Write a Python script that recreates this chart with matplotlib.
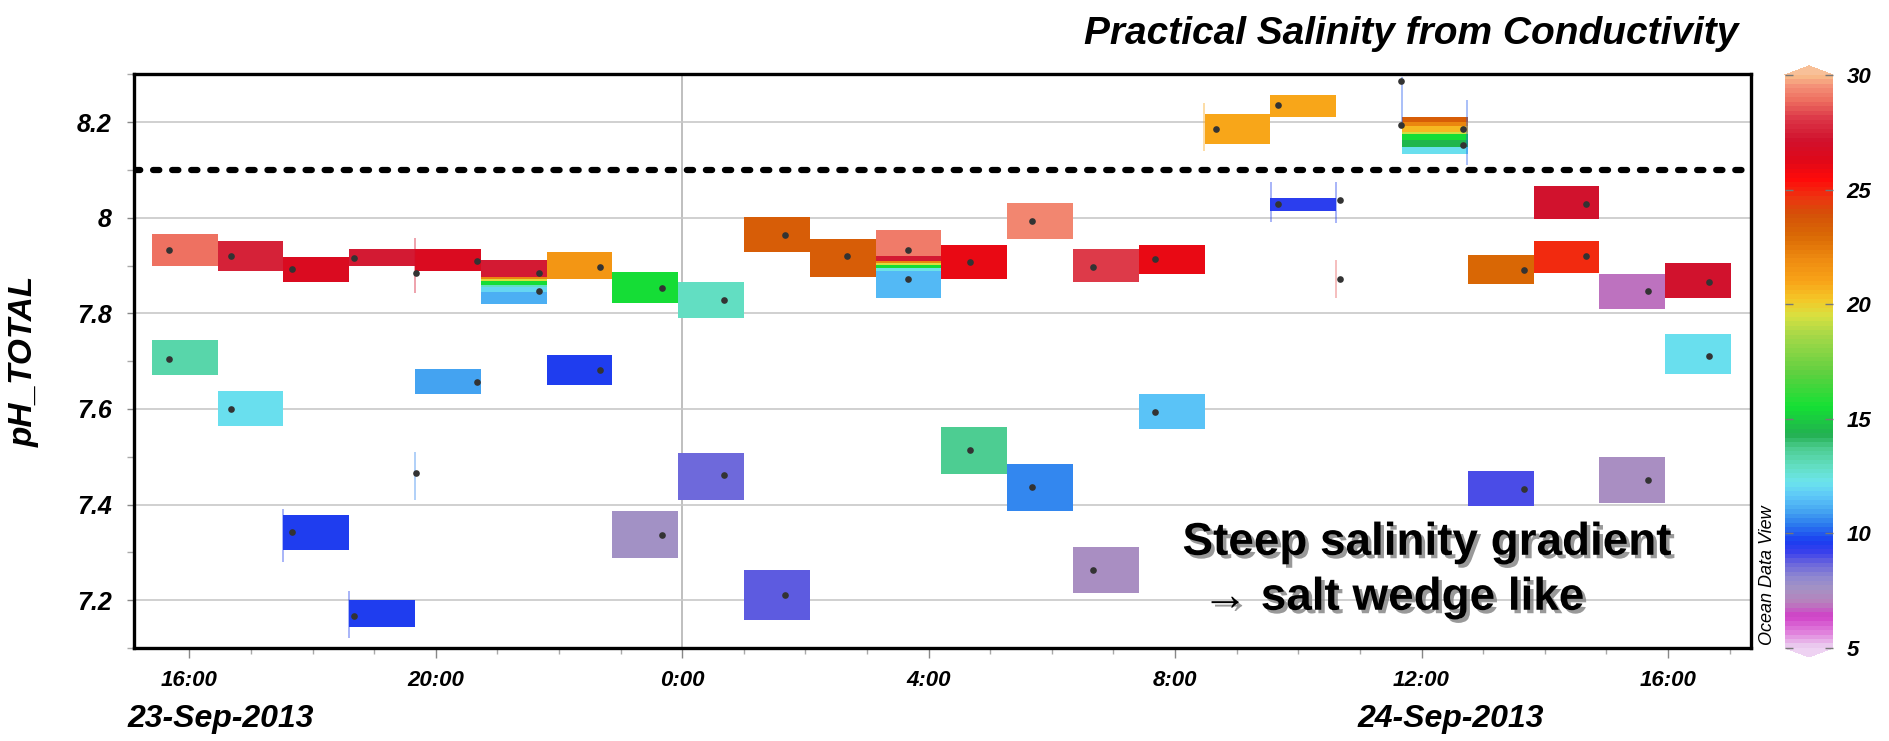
"""
pH_TOTAL time series, 23-24 Sep 2013
Gridded cells coloured by practical salinity (from conductivity),
hourly samples drawn as dots on top.
"""

import matplotlib
matplotlib.use("Agg")
import matplotlib.pyplot as plt
import matplotlib.patheffects as pe
from matplotlib.colors import LinearSegmentedColormap, Normalize
from matplotlib.cm import ScalarMappable
from matplotlib.ticker import MultipleLocator, FuncFormatter

plt.rcParams['font.family'] = ['Liberation Sans', 'DejaVu Sans']
plt.rcParams['font.weight'] = 'bold'
plt.rcParams['font.style'] = 'italic'

# ==================== Data ====================
# time axis: hours since 23-Sep-2013 00:00

GRID_T0 = 15.39   # left edge of the first grid column (h)
GRID_DT = 1.068   # grid column width (h)

# gridded cells: grid column, pH bottom, pH top, salinity
cell_col = [0, 0, 1, 1, 2, 2, 3, 3, 4, 4,
            5, 5, 5, 5, 5, 5, 5,
            6, 6, 7, 7, 8, 8, 9, 9, 10,
            11, 11, 11, 11, 11, 11, 11,
            12, 12, 13, 13, 14, 14, 15, 15, 16, 17, 17,
            19, 19, 19, 19, 19, 19, 19,
            20, 20, 21, 21, 22, 22, 23, 23]
cell_lo = [7.900, 7.671, 7.888, 7.565, 7.866, 7.306, 7.900, 7.143, 7.889, 7.632,
           7.877, 7.872, 7.867, 7.859, 7.855, 7.845, 7.820,
           7.871, 7.650, 7.821, 7.289, 7.791, 7.410, 7.928, 7.159, 7.877,
           7.919, 7.909, 7.905, 7.902, 7.895, 7.888, 7.833,
           7.871, 7.464, 7.956, 7.386, 7.866, 7.215, 7.882, 7.558, 8.154, 8.210, 8.014,
           8.201, 8.192, 8.180, 8.175, 8.163, 8.149, 8.133,
           7.861, 7.396, 7.997, 7.884, 7.809, 7.403, 7.833, 7.673]
cell_hi = [7.967, 7.744, 7.951, 7.638, 7.917, 7.379, 7.934, 7.200, 7.934, 7.683,
           7.912, 7.877, 7.872, 7.867, 7.859, 7.855, 7.845,
           7.928, 7.713, 7.887, 7.386, 7.865, 7.508, 8.002, 7.264, 7.955,
           7.974, 7.919, 7.909, 7.905, 7.902, 7.895, 7.888,
           7.944, 7.563, 8.031, 7.485, 7.934, 7.312, 7.944, 7.631, 8.217, 8.256, 8.042,
           8.210, 8.201, 8.192, 8.180, 8.175, 8.163, 8.149,
           7.922, 7.471, 8.066, 7.952, 7.882, 7.500, 7.905, 7.756]
cell_sal = [29.0, 13.3, 27.6, 12.2, 26.5, 9.6, 27.3, 9.6, 26.6, 11.0,
            27.4, 22.0, 19.5, 15.5, 13.0, 12.0, 11.2,
            21.6, 9.6, 15.5, 7.7, 12.9, 8.6, 23.5, 8.8, 23.5,
            29.2, 27.4, 22.0, 19.5, 15.5, 12.3, 11.4,
            25.9, 13.6, 29.3, 10.6, 28.2, 7.5, 25.9, 11.6, 21.0, 20.9, 9.4,
            23.5, 22.0, 20.5, 19.3, 15.5, 14.5, 12.2,
            23.0, 9.1, 27.2, 24.8, 6.95, 7.4, 27.2, 12.2]

# zero-width cells at column edges (thin streaks)
sliver_t = [17.52, 18.59, 19.66, 19.66, 32.47, 33.55, 34.61, 34.61, 35.68, 36.74]
sliver_lo = [7.28, 7.12, 7.843, 7.41, 8.14, 7.992, 7.99, 7.832, 8.19, 8.11]
sliver_hi = [7.39, 7.22, 7.958, 7.51, 8.24, 8.075, 8.075, 7.912, 8.295, 8.246]
sliver_sal = [9.6, 9.6, 27.0, 10.5, 21.0, 9.6, 9.6, 28.5, 10.0, 10.0]

# hourly samples
obs_t = [15.67, 15.67, 16.67, 16.67, 17.67, 17.67, 18.67, 18.67, 19.67, 19.67,
         20.67, 20.67, 21.67, 21.67, 22.67, 22.67, 23.67, 23.67, 24.67, 24.67,
         25.67, 25.67, 26.67, 27.67, 27.67, 28.67, 28.67, 29.67, 29.67,
         30.67, 30.67, 31.67, 31.67, 32.67, 33.67, 33.67, 34.67, 34.67,
         35.67, 35.67, 36.67, 36.67, 37.67, 37.67, 38.67, 38.67, 39.67, 39.67,
         40.67, 40.67]
obs_ph = [7.932, 7.705, 7.920, 7.600, 7.893, 7.342, 7.915, 7.167, 7.884, 7.466,
          7.910, 7.656, 7.884, 7.847, 7.898, 7.682, 7.853, 7.336, 7.828, 7.461,
          7.964, 7.210, 7.919, 7.932, 7.871, 7.908, 7.514, 7.993, 7.437,
          7.898, 7.263, 7.913, 7.594, 8.185, 8.236, 8.029, 8.037, 7.872,
          8.286, 8.193, 8.186, 8.153, 7.891, 7.432, 8.029, 7.919, 7.847, 7.451,
          7.866, 7.711]

PH_REF = 8.1

# ODV-like salinity palette
sal_stops = [5.0, 5.6, 6.3, 6.9, 7.5, 8.0, 8.6, 9.1, 9.6, 10.3, 11.0, 11.6, 12.2,
             12.9, 13.7, 14.3, 15.5, 17.0, 18.7, 19.5, 20.2, 21.0, 22.0, 23.0,
             24.0, 24.7, 25.5, 26.3, 27.2, 28.2, 29.0, 29.6, 30.0]
sal_colors = ['#EAC8EE', '#E080DC', '#D040C8', '#B880BC', '#A492C4', '#9088D0',
              '#6A66DC', '#3A40EC', '#1A3CF0', '#2A78EE', '#48AAF2', '#5EC8F8',
              '#6CE4EC', '#62DEC0', '#4CCC90', '#22B050', '#14E034', '#60D040',
              '#A8D848', '#D8E040', '#F4C828', '#F8A418', '#EE8A10', '#DA6A05',
              '#D45008', '#EE3410', '#FF0A0A', '#E00818', '#D0102C', '#DC3848',
              '#EE7060', '#F49078', '#F8B888']

SAL_MIN, SAL_MAX = 5, 30

# ==================== Plot ====================
cmap = LinearSegmentedColormap.from_list(
    'odv', [((s - SAL_MIN) / (SAL_MAX - SAL_MIN), c) for s, c in zip(sal_stops, sal_colors)],
    N=128)
cmap.set_over('#F8C098')
cmap.set_under('#EED2F2')
norm = Normalize(SAL_MIN, SAL_MAX)

fig = plt.figure(figsize=(18.9, 7.41), dpi=100)
ax = fig.add_axes([0.0709, 0.1255, 0.8556, 0.7742])

cell_left = [GRID_T0 + c * GRID_DT for c in cell_col]
cell_h = [hi - lo for lo, hi in zip(cell_lo, cell_hi)]
ax.bar(cell_left, cell_h, bottom=cell_lo, width=GRID_DT, align='edge',
       color=cmap(norm(cell_sal)), edgecolor='none', zorder=2)

ax.vlines(sliver_t, sliver_lo, sliver_hi, colors=cmap(norm(sliver_sal)),
          lw=1.2, alpha=0.45, zorder=2)

ax.plot(obs_t, obs_ph, 'o', ms=4.8, color='#333333', mec='none', zorder=4)

ax.axhline(PH_REF, color='black', lw=4.5, linestyle=(0, (1.0, 2.05)),
           dash_capstyle='round', zorder=3)

# axes
ax.set_xlim(15.10, 41.35)
ax.set_ylim(7.1, 8.3)
ax.xaxis.set_major_locator(MultipleLocator(4))
ax.xaxis.set_minor_locator(MultipleLocator(1))
ax.xaxis.set_major_formatter(FuncFormatter(lambda h, pos: f"{int(round(h)) % 24}:00"))
ax.yaxis.set_major_locator(MultipleLocator(0.2))
ax.yaxis.set_minor_locator(MultipleLocator(0.1))
ax.yaxis.set_major_formatter(FuncFormatter(lambda v, pos: f"{v:g}"))

ax.set_axisbelow(True)
ax.grid(axis='y', which='major', color='#C8C8C8', lw=1.2)
ax.axvline(24, color='#B4B4B4', lw=1.2, zorder=0.5)

for s in ax.spines.values():
    s.set_linewidth(2.4)
ax.tick_params(axis='y', which='major', length=5, width=1, color='#888888',
               labelsize=18, pad=11)
ax.tick_params(axis='y', which='minor', length=5, width=1, color='#AAAAAA')
ax.tick_params(axis='x', which='major', length=7, width=1, color='#888888',
               labelsize=16, pad=9)
ax.tick_params(axis='x', which='minor', length=4, width=1, color='#AAAAAA')

# day labels under the time axis
xt = ax.get_xaxis_transform()
ax.text(16.5, -0.137, '23-Sep-2013', transform=xt, ha='center', va='baseline', fontsize=23)
ax.text(36.47, -0.137, '24-Sep-2013', transform=xt, ha='center', va='baseline', fontsize=23)

fig.text(24 / 1890, 1 - 361 / 741, 'pH_TOTAL', rotation=90, ha='center', va='center',
         fontsize=24)
fig.text(1738 / 1890, 1 - 44 / 741, 'Practical Salinity from Conductivity',
         ha='right', va='baseline', fontsize=28)

# annotation with drop shadow
shadow = [pe.withSimplePatchShadow(offset=(2.5, -2.5), shadow_rgbFace='#808080', alpha=0.8)]
ax.text(32.12, 7.295, 'Steep salinity gradient', ha='left', va='baseline',
        fontsize=33, fontweight='bold', fontstyle='normal', path_effects=shadow, zorder=5)
ax.text(32.44, 7.180, '→ salt wedge like', ha='left', va='baseline',
        fontsize=33, fontweight='bold', fontstyle='normal', path_effects=shadow, zorder=5)

# colorbar
cax = fig.add_axes([0.9444, 0.1134, 0.0254, 0.7976])
cb = fig.colorbar(ScalarMappable(norm=norm, cmap=cmap), cax=cax, extend='both',
                  extendfrac=0.0157, ticks=[5, 10, 15, 20, 25, 30])
cb.outline.set_visible(False)
cax.tick_params(which='major', direction='in', length=6, width=1, color='#777777',
                left=True, right=True, labelsize=16, pad=10)
cax.minorticks_off()

fig.text(1768 / 1890, 1 - 645 / 741, 'Ocean Data View', rotation=90, ha='center',
         va='bottom', fontsize=13, fontweight='normal')

fig.savefig('out.png', dpi=100)
